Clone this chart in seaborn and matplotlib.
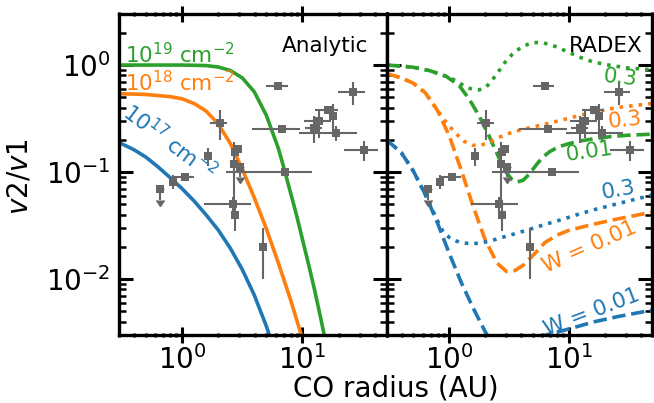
import numpy as np
import pandas as pd
import matplotlib
matplotlib.use("Agg")
import matplotlib.pyplot as plt
import seaborn as sns
from matplotlib.ticker import LogLocator, NullFormatter

# ---------------- data ----------------
# observed points
obs_r = [6.3, 26.3, 2.05, 6.7, 18.9, 16.3, 17.8, 13.8, 12.5, 32.3, 7.2, 2.75, 2.93,
         2.72, 1.63, 1.06, 0.84, 2.63, 2.75, 4.72]
obs_ratio = [0.64, 0.56, 0.29, 0.25, 0.232, 0.38, 0.335, 0.30, 0.26, 0.161, 0.10, 0.153,
             0.164, 0.12, 0.141, 0.09, 0.081, 0.05, 0.04, 0.02]
obs_rerr = [1.3, 6.5, 0.33, 2.9, 9.5, 3.5, 0, 3.5, 2.0, 10, 4.9, 0, 0, 0, 0, 0.2, 0, 1.1, 0, 0]
obs_ratio_err = [0, 0.14, 0.09, 0, 0.035, 0.03, 0.1, 0.09, 0.075, 0.035, 0, 0, 0, 0.07,
                 0.028, 0, 0.012, 0.009, 0.012, 0.01]
# upper limits
ul_r = [0.66, 3.02]
ul_ratio = [0.07, 0.112]
ul_err = [0.015, 0.023]

# Analytic curves (column densities 1e19, 1e18, 1e17 cm^-2)
an19_r = [0.3, 1.0, 1.585, 1.995, 2.512, 3.162, 3.981, 5.012, 6.31, 7.079, 7.943, 8.913,
          10.0, 11.22, 12.59, 14.13, 15.85]
an19_v = [1.0, 1.0, 0.989, 0.959, 0.891, 0.759, 0.562, 0.339, 0.166, 0.105, 0.0646, 0.0398,
          0.0234, 0.0138, 0.00794, 0.00437, 0.00234]
an18_r = [0.3, 0.501, 0.794, 1.0, 1.259, 1.585, 1.995, 2.512, 3.162, 3.981, 5.012, 6.31,
          7.943, 10.0]
an18_v = [0.540, 0.531, 0.507, 0.484, 0.437, 0.372, 0.282, 0.186, 0.107, 0.0575, 0.0295,
          0.0141, 0.00646, 0.00275]
an17_r = [0.3, 0.398, 0.501, 0.631, 0.794, 1.0, 1.259, 1.585, 1.995, 2.512, 3.162, 3.981,
          5.012, 5.623]
an17_v = [0.189, 0.162, 0.138, 0.112, 0.0891, 0.070, 0.0537, 0.0398, 0.0288, 0.0195, 0.0123,
          0.00708, 0.00363, 0.00245]

# RADEX curves (W = 0.01 dashed, W = 0.3 dotted)
rx_g01_r = [0.3, 0.398, 0.501, 0.686, 0.942, 1.216, 1.469, 1.778, 2.153, 2.606, 2.951, 3.311,
            3.698, 4.169, 4.624, 5.248, 5.957, 6.918, 8.204, 10.0, 12.02, 15.85, 22.70, 31.62, 50.0]
rx_g01_v = [1.0, 0.977, 0.953, 0.887, 0.785, 0.641, 0.481, 0.335, 0.218, 0.136, 0.102, 0.0861,
            0.0805, 0.0841, 0.0944, 0.1135, 0.135, 0.155, 0.172, 0.184, 0.194, 0.204, 0.215,
            0.221, 0.226]
rx_g3_r = [0.3, 0.398, 0.501, 0.686, 0.942, 1.140, 1.349, 1.567, 1.778, 2.023, 2.291, 2.606,
           2.951, 3.365, 3.981, 4.920, 6.026, 7.691, 10.0, 12.02, 15.85, 22.70, 31.62, 50.0]
rx_g3_v = [1.0, 0.977, 0.953, 0.887, 0.785, 0.715, 0.631, 0.592, 0.586, 0.617, 0.724, 0.881,
           1.072, 1.259, 1.462, 1.622, 1.622, 1.496, 1.318, 1.197, 1.072, 0.989, 0.938, 0.902]
rx_o01_r = [0.3, 0.398, 0.501, 0.631, 0.794, 1.0, 1.259, 1.585, 1.995, 2.512, 3.020, 3.548,
            4.169, 5.012, 6.31, 7.943, 10.0, 15.85, 25.12, 50.0]
rx_o01_v = [0.832, 0.759, 0.676, 0.550, 0.380, 0.219, 0.1047, 0.0479, 0.0234, 0.0141, 0.01175,
            0.0120, 0.0135, 0.0166, 0.0219, 0.0257, 0.0285, 0.0324, 0.0363, 0.0422]
rx_o3_r = [0.3, 0.398, 0.501, 0.631, 0.794, 0.891, 1.0, 1.140, 1.318, 1.567, 1.820, 2.153,
           2.512, 2.965, 3.548, 4.345, 7.211, 13.65, 25.76, 50.0]
rx_o3_v = [0.832, 0.759, 0.676, 0.550, 0.380, 0.316, 0.269, 0.229, 0.195, 0.178, 0.178, 0.188,
           0.207, 0.224, 0.240, 0.254, 0.290, 0.348, 0.402, 0.437]
rx_b01_r = [0.3, 0.398, 0.501, 0.631, 0.794, 1.0, 1.259, 1.585, 1.995, 2.512, 3.548, 5.012,
            6.353, 9.311, 16.52, 25.76, 50.0]
rx_b01_v = [0.1995, 0.1514, 0.1023, 0.0617, 0.0339, 0.0174, 0.00933, 0.00537, 0.00324,
            0.00209, 0.00141, 0.00251, 0.00299, 0.00334, 0.0040, 0.00446, 0.00513]
rx_b3_r = [0.3, 0.398, 0.501, 0.631, 0.794, 0.891, 1.0, 1.148, 1.318, 1.567, 1.862, 2.153,
           2.692, 3.365, 4.624, 6.31, 8.73, 12.02, 16.52, 22.91, 31.19, 50.0]
rx_b3_v = [0.1995, 0.1514, 0.1023, 0.0617, 0.0355, 0.0275, 0.0245, 0.02265, 0.0217, 0.0214,
           0.0218, 0.02254, 0.02427, 0.02606, 0.02897, 0.03236, 0.03597, 0.04027, 0.04467,
           0.0490, 0.05346, 0.0610]

# ---------------- style ----------------
sns.set_theme(style="ticks", rc={
    "axes.edgecolor": "black", "xtick.color": "black", "ytick.color": "black",
    "text.color": "black", "axes.labelcolor": "black",
})
plt.rcParams["font.family"] = ["DejaVu Sans"]
plt.rcParams["mathtext.fontset"] = "dejavusans"

C0, C1, C2 = "#1f77b4", "#ff7f0e", "#2ca02c"
GRAY = "#666666"
LW = 2.6

fig = plt.figure(figsize=(6.54, 4.03), dpi=100)
ax1 = fig.add_axes([119 / 654, 68 / 403, 267.7 / 654, 321 / 403])
ax2 = fig.add_axes([386.7 / 654, 68 / 403, 265.6 / 654, 321 / 403], sharey=ax1)

for ax in (ax1, ax2):
    ax.set_xscale("log")
    ax.set_yscale("log")


def curve(ax, r, v, color, ls):
    df = pd.DataFrame({"r": r, "v": v})
    sns.lineplot(data=df, x="r", y="v", ax=ax, color=color, linestyle=ls, lw=LW,
                 sort=False, estimator=None, legend=False)


def observations(ax):
    ax.errorbar(obs_r, obs_ratio, xerr=obs_rerr, yerr=obs_ratio_err, fmt="none",
                ecolor=GRAY, elinewidth=1.5, capsize=0, zorder=3)
    ax.errorbar(ul_r, ul_ratio, yerr=ul_err, uplims=True, fmt="none", color=GRAY,
                ecolor=GRAY, elinewidth=1.5, capsize=3, zorder=3)
    pts = pd.DataFrame({"r": obs_r + ul_r, "v": obs_ratio + ul_ratio})
    sns.scatterplot(data=pts, x="r", y="v", ax=ax, marker="s", s=40, color=GRAY,
                    edgecolor=GRAY, linewidth=0, zorder=4, legend=False)


# left panel: analytic
curve(ax1, an19_r, an19_v, C2, "-")
curve(ax1, an18_r, an18_v, C1, "-")
curve(ax1, an17_r, an17_v, C0, "-")
observations(ax1)

# right panel: RADEX
curve(ax2, rx_g01_r, rx_g01_v, C2, "--")
curve(ax2, rx_g3_r, rx_g3_v, C2, ":")
curve(ax2, rx_o01_r, rx_o01_v, C1, "--")
curve(ax2, rx_o3_r, rx_o3_v, C1, ":")
curve(ax2, rx_b01_r, rx_b01_v, C0, "--")
curve(ax2, rx_b3_r, rx_b3_v, C0, ":")
observations(ax2)

for ax in (ax1, ax2):
    ax.set_xlim(0.3, 50)
    ax.set_ylim(0.003, 3)
    ax.set_xlabel("")
    ax.set_ylabel("")
    ax.xaxis.set_major_locator(LogLocator(base=10, numticks=10))
    ax.xaxis.set_minor_locator(LogLocator(base=10, subs=np.arange(2, 10), numticks=20))
    ax.yaxis.set_major_locator(LogLocator(base=10, numticks=10))
    ax.yaxis.set_minor_locator(LogLocator(base=10, subs=np.arange(2, 10), numticks=20))
    ax.xaxis.set_minor_formatter(NullFormatter())
    ax.yaxis.set_minor_formatter(NullFormatter())
    ax.tick_params(axis="x", which="major", direction="inout", length=12, width=2.2,
                   top=True, bottom=True, labelsize=20, pad=1.5)
    ax.tick_params(axis="x", which="minor", direction="inout", length=3.5, width=2.0,
                   top=True, bottom=True)
    ax.tick_params(axis="y", which="major", direction="in", length=10, width=2.2,
                   left=True, right=True, labelsize=20, pad=6)
    ax.tick_params(axis="y", which="minor", direction="in", length=5, width=1.8,
                   left=True, right=True)
    for s in ax.spines.values():
        s.set_linewidth(2.4)
        s.set_visible(True)
ax2.tick_params(axis="y", which="both", labelleft=False)

# annotations
FS = 15.5
ax1.text(0.93, 0.90, "Analytic", transform=ax1.transAxes, ha="right", va="center", fontsize=FS)
ax1.text(0.022, 0.847, r"$10^{19}$ cm$^{-2}$", transform=ax1.transAxes, ha="left",
         va="baseline", fontsize=FS, color=C2)
ax1.text(0.022, 0.758, r"$10^{18}$ cm$^{-2}$", transform=ax1.transAxes, ha="left",
         va="baseline", fontsize=FS, color=C1)
ax1.text(0.19, 0.60, r"$10^{17}$ cm$^{-2}$", transform=ax1.transAxes, ha="center",
         va="center", rotation=-37, rotation_mode="anchor", fontsize=FS, color=C0)

ax2.text(0.965, 0.90, "RADEX", transform=ax2.transAxes, ha="right", va="center", fontsize=FS)
ax2.text(0.878, 0.80, "0.3", transform=ax2.transAxes, ha="center", va="center",
         rotation=-6, rotation_mode="anchor", fontsize=FS, color=C2)
ax2.text(0.897, 0.67, "0.3", transform=ax2.transAxes, ha="center", va="center",
         rotation=6, rotation_mode="anchor", fontsize=FS, color=C1)
ax2.text(0.762, 0.57, "0.01", transform=ax2.transAxes, ha="center", va="center",
         rotation=8, rotation_mode="anchor", fontsize=FS, color=C2)
ax2.text(0.871, 0.452, "0.3", transform=ax2.transAxes, ha="center", va="center",
         rotation=10, rotation_mode="anchor", fontsize=FS, color=C0)
ax2.text(0.765, 0.274, "W = 0.01", transform=ax2.transAxes, ha="center", va="center",
         rotation=24, rotation_mode="anchor", fontsize=FS, color=C1)
ax2.text(0.773, 0.072, "W = 0.01", transform=ax2.transAxes, ha="center", va="center",
         rotation=21, rotation_mode="anchor", fontsize=FS, color=C0)

fig.text(395.5 / 654, 7 / 403, "CO radius (AU)", ha="center", va="baseline", fontsize=20)
fig.text(20 / 654, 0.563, "$v2/v1$", rotation=90, ha="center", va="center", fontsize=20)

fig.savefig("out.png", dpi=100)
